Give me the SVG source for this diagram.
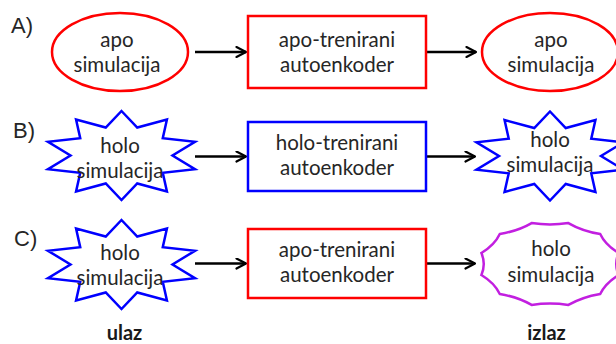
<svg xmlns="http://www.w3.org/2000/svg" xmlns:xlink="http://www.w3.org/1999/xlink" width="616" height="344" viewBox="0 0 616 344">
  <style>
    .lbl { font-family: "Liberation Sans", Arial, sans-serif; font-size: 22px; fill: #262626; }
    .txt { font-family: Lato, "Open Sans", sans-serif; font-size: 20.5px; fill: #262626; text-anchor: middle; }
    .cap { font-family: Lato, "Open Sans", sans-serif; font-size: 20px; font-weight: bold; fill: #1a1a1a; text-anchor: middle; }
    .red { fill: #ffffff; stroke: #ff0000; stroke-width: 2.5; }
    .blue { fill: #ffffff; stroke: #0000ff; stroke-width: 2.5; stroke-linejoin: miter; }
    .purple { fill: #ffffff; stroke: #c21fe0; stroke-width: 2.5; }
    .conn { stroke: #000000; stroke-width: 2.4; fill: none; marker-end: url(#arrow); }
  </style>
  <defs>
    <marker id="arrow" markerUnits="userSpaceOnUse" viewBox="0 0 12 12" markerWidth="12" markerHeight="12" refX="11" refY="6" orient="auto">
      <path d="M1.5,1 L11,6 L1.5,11" fill="none" stroke="#000000" stroke-width="2.2" stroke-linecap="round" stroke-linejoin="round"/>
    </marker>
    <!-- ten-point star centred on the origin -->
    <polygon id="star10" points="0,-44.5 15.76,-27.93 45.44,-36 41.26,-17.26 73.52,-13.75 51,0 73.52,13.75 41.26,17.26 45.44,36 15.76,27.93 0,44.5 -15.76,27.93 -45.44,36 -41.26,17.26 -73.52,13.75 -51,0 -73.52,-13.75 -41.26,-17.26 -45.44,-36 -15.76,-27.93"/>
    <!-- twelve-point wavy seal centred on the origin -->
    <path id="wave12" d="M-18.37,-40.95 Q0,-38.16 18.37,-40.95 Q31.95,-33.05 50.2,-29.98 Q55.34,-19.08 68.58,-10.97 Q63.9,0 68.58,10.97 Q55.34,19.08 50.2,29.98 Q31.95,33.05 18.37,40.95 Q0,38.16 -18.37,40.95 Q-31.95,33.05 -50.2,29.98 Q-55.34,19.08 -68.58,10.97 Q-63.9,0 -68.58,-10.97 Q-55.34,-19.08 -50.2,-29.98 Q-31.95,-33.05 -18.37,-40.95 Z"/>
  </defs>

  <rect x="0" y="0" width="616" height="344" fill="#ffffff"/>

  <!-- row labels -->
  <text class="lbl" x="11" y="33">A)</text>
  <text class="lbl" x="13" y="138">B)</text>
  <text class="lbl" x="14" y="246">C)</text>

  <!-- connectors -->
  <g id="connectors">
    <line class="conn" x1="195" y1="52" x2="246" y2="52"/>
    <line class="conn" x1="426" y1="52" x2="476" y2="52"/>
    <line class="conn" x1="195" y1="156.5" x2="246" y2="156.5"/>
    <line class="conn" x1="426" y1="156.5" x2="475" y2="156.5"/>
    <line class="conn" x1="195" y1="263.5" x2="246" y2="263.5"/>
    <line class="conn" x1="426" y1="263.5" x2="475" y2="263.5"/>
  </g>

  <!-- row A -->
  <g id="a-input">
    <ellipse class="red" cx="120" cy="52" rx="68" ry="39"/>
    <text class="txt" x="117" y="47">apo</text>
    <text class="txt" x="117" y="72">simulacija</text>
  </g>
  <g id="a-model">
    <rect class="red" x="248" y="16" width="178" height="72"/>
    <text class="txt" x="337" y="47">apo-trenirani</text>
    <text class="txt" x="337" y="72">autoenkoder</text>
  </g>
  <g id="a-output">
    <ellipse class="red" cx="550" cy="52" rx="68" ry="39"/>
    <text class="txt" x="551" y="47">apo</text>
    <text class="txt" x="551" y="72">simulacija</text>
  </g>

  <!-- row B -->
  <g id="b-input">
    <use xlink:href="#star10" href="#star10" class="blue" transform="translate(121.5,155.5)"/>
    <text class="txt" x="120" y="153">holo</text>
    <text class="txt" x="120" y="178">simulacija</text>
  </g>
  <g id="b-model">
    <rect class="blue" x="248" y="122" width="178" height="69"/>
    <text class="txt" x="337" y="150">holo-trenirani</text>
    <text class="txt" x="337" y="175">autoenkoder</text>
  </g>
  <g id="b-output">
    <use xlink:href="#star10" href="#star10" class="blue" transform="translate(550,156)"/>
    <text class="txt" x="550" y="147">holo</text>
    <text class="txt" x="550" y="172">simulacija</text>
  </g>

  <!-- row C -->
  <g id="c-input">
    <use xlink:href="#star10" href="#star10" class="blue" transform="translate(121.5,264.5)"/>
    <text class="txt" x="120" y="260">holo</text>
    <text class="txt" x="120" y="285">simulacija</text>
  </g>
  <g id="c-model">
    <rect class="red" x="248" y="229" width="178" height="69"/>
    <text class="txt" x="337" y="257">apo-trenirani</text>
    <text class="txt" x="337" y="282">autoenkoder</text>
  </g>
  <g id="c-output">
    <use xlink:href="#wave12" href="#wave12" class="purple" transform="translate(550,264)"/>
    <text class="txt" x="551" y="256">holo</text>
    <text class="txt" x="551" y="282">simulacija</text>
  </g>

  <!-- column captions -->
  <text class="cap" x="124.5" y="340">ulaz</text>
  <text class="cap" x="546.5" y="340">izlaz</text>
</svg>
